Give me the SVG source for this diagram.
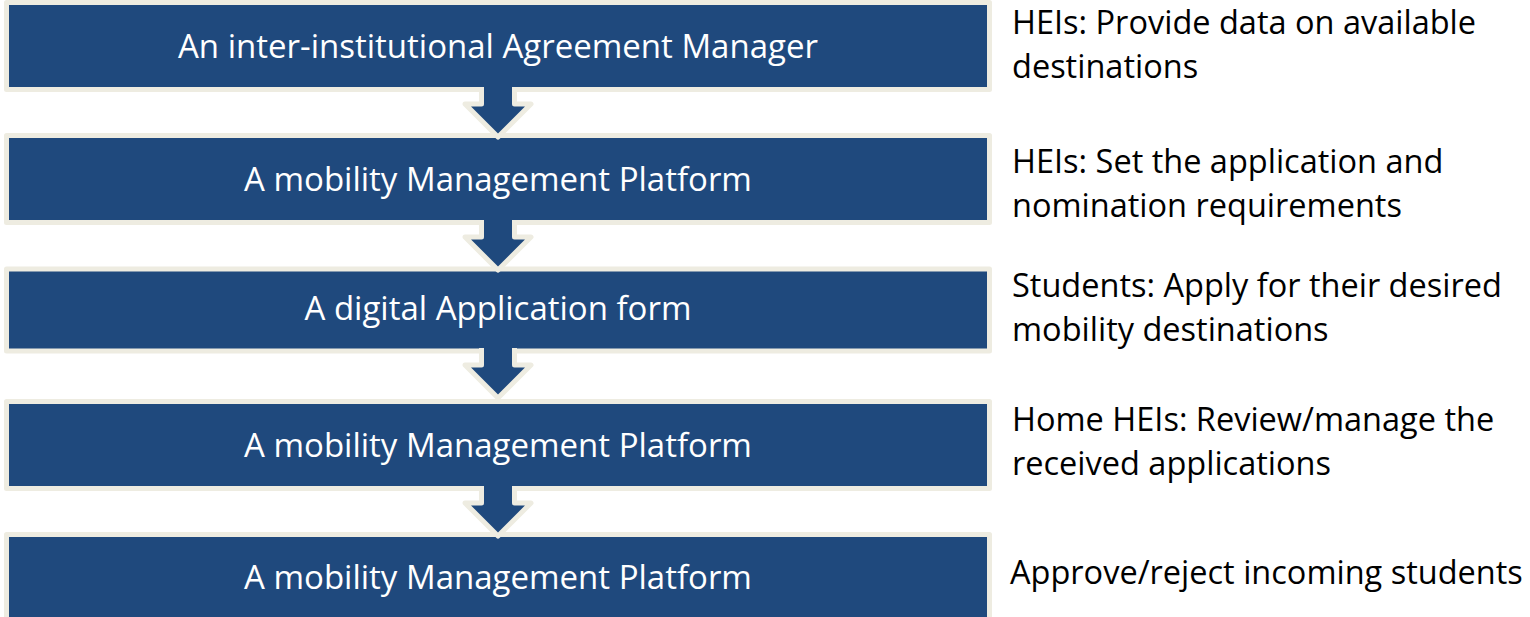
<svg xmlns="http://www.w3.org/2000/svg" width="1530" height="617" viewBox="0 0 1530 617">
  <style>
    .box { fill: #1F497D; stroke: #EEECE1; stroke-width: 5; stroke-linejoin: round; }
    .arrow { fill: #1F497D; stroke: #EEECE1; stroke-width: 5; stroke-linejoin: round; }
    .label { fill: #FFFFFF; font-family: "Open Sans", "Liberation Sans", sans-serif; font-size: 33px; text-anchor: middle; }
    .note { fill: #000000; font-family: "Open Sans", "Liberation Sans", sans-serif; font-size: 32.5px; }
  </style>
  <rect width="1530" height="617" fill="#FFFFFF"/>
  <g id="node1">
    <rect class="box" x="6.5" y="2.5" width="983" height="87"/>
    <text class="label" x="498" y="58">An inter-institutional Agreement Manager</text>
  </g>
  <g id="node2">
    <rect class="box" x="6.5" y="135.5" width="983" height="87"/>
    <text class="label" x="498" y="191">A mobility Management Platform</text>
  </g>
  <g id="node3">
    <rect class="box" x="6.5" y="269" width="983" height="82"/>
    <text class="label" x="498" y="320">A digital Application form</text>
  </g>
  <g id="node4">
    <rect class="box" x="6.5" y="401.5" width="983" height="87"/>
    <text class="label" x="498" y="457">A mobility Management Platform</text>
  </g>
  <g id="node5">
    <rect class="box" x="6.5" y="534.5" width="983" height="87"/>
    <text class="label" x="498" y="589">A mobility Management Platform</text>
  </g>
  <g id="connectors">
    <path class="arrow" d="M481.5,87 L481.5,104 L465,104 L498,137 L531,104 L514.5,104 L514.5,87"/>
    <path class="arrow" d="M481.5,220 L481.5,237 L465,237 L498,270 L531,237 L514.5,237 L514.5,220"/>
    <path class="arrow" d="M481.5,348 L481.5,365 L465,365 L498,398 L531,365 L514.5,365 L514.5,348"/>
    <path class="arrow" d="M481.5,486 L481.5,503 L465,503 L498,536 L531,503 L514.5,503 L514.5,486"/>
  </g>
  <g id="notes">
    <text class="note" x="1012" y="34">HEIs: Provide data on available</text>
    <text class="note" x="1012" y="78">destinations</text>
    <text class="note" x="1012" y="173">HEIs: Set the application and</text>
    <text class="note" x="1012" y="217">nomination requirements</text>
    <text class="note" x="1012" y="297">Students: Apply for their desired</text>
    <text class="note" x="1012" y="341">mobility destinations</text>
    <text class="note" x="1012" y="431">Home HEIs: Review/manage the</text>
    <text class="note" x="1012" y="475">received applications</text>
    <text class="note" x="1010" y="584">Approve/reject incoming students</text>
  </g>
</svg>
